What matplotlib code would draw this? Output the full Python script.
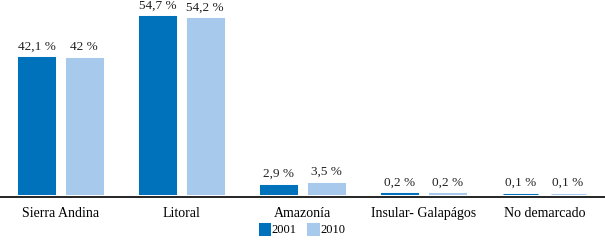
import numpy as np
import matplotlib
matplotlib.use("Agg")
import matplotlib.pyplot as plt

plt.rcParams['font.family'] = ['Liberation Serif', 'DejaVu Serif']

# DATA
regiones = ["Sierra Andina", "Litoral", "Amazonía", "Insular- Galapágos", "No demarcado"]
v2001 = [42.1, 54.7, 2.9, 0.2, 0.1]
v2010 = [42.0, 54.2, 3.5, 0.2, 0.1]
etiq2001 = ["42,1 %", "54,7 %", "2,9 %", "0,2 %", "0,1 %"]
etiq2010 = ["42 %", "54,2 %", "3,5 %", "0,2 %", "0,1 %"]

c2001 = "#0072BC"
c2010 = "#A7CAEC"

fig = plt.figure(figsize=(6.05, 2.44), dpi=100)
ax = fig.add_axes([0, 49/244, 1, 195/244])

x = np.arange(len(regiones))
w = 0.29
# thick edge so the tiny bars still show, like the original
b1 = ax.bar(x - 0.195, v2001, w, color=c2001, edgecolor=c2001, linewidth=2.2, label="2001")
b2 = ax.bar(x + 0.195, v2010, w, color=c2010, edgecolor=c2010, linewidth=2.2, label="2010")

for bars, labs in [(b1, etiq2001), (b2, etiq2010)]:
    for r, t in zip(bars, labs):
        ax.annotate(t, (r.get_x() + r.get_width()/2, r.get_height()),
                    xytext=(0, 4), textcoords="offset points",
                    ha="center", va="bottom", fontsize=9.5, color="#222222")

ax.set_xlim(-0.5, 4.5)
ax.set_ylim(0, 60.0)
ax.set_xticks(x)
ax.set_xticklabels(regiones, fontsize=9.2)
ax.tick_params(axis="x", length=0, pad=7)
ax.set_yticks([])
for s in ["top", "left", "right"]:
    ax.spines[s].set_visible(False)
ax.spines["bottom"].set_position(("outward", 1.6))
ax.spines["bottom"].set_linewidth(1.2)

fig.legend(loc="lower center", bbox_to_anchor=(0.5, -0.015), ncol=2, frameon=False,
           fontsize=9, handlelength=0.75, handleheight=0.75, handletextpad=0.2,
           columnspacing=0.9)

fig.savefig("out.png", dpi=100)
